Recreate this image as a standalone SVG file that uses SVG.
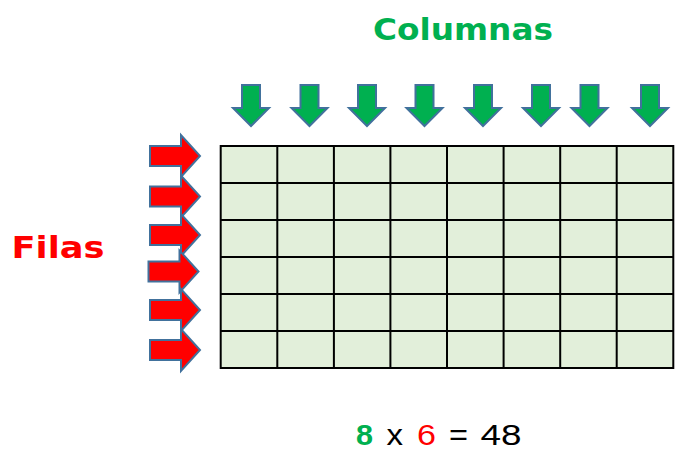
<svg xmlns="http://www.w3.org/2000/svg" width="675" height="452" viewBox="0 0 675 452">
<defs>
<style>
.cell{fill:#E2EFDA;stroke:none}
.grid{stroke:#000;stroke-width:2;fill:none}
.down{fill:#00B050;stroke:#41719C;stroke-width:2;stroke-linejoin:miter}
.right{fill:#FF0000;stroke:#41719C;stroke-width:2;stroke-linejoin:miter}
.title{font-family:"DejaVu Sans",sans-serif;font-weight:bold}
.eq{font-family:"Liberation Sans",Arial,sans-serif;font-size:29px}
</style>
<path id="da" d="M-9,0 H9 V23 H18 L0,41 L-18,23 H-9 Z"/>
<path id="ra" d="M0,-10 H31 V-21 L50,0 L31,21 V10 H0 Z"/>
</defs>
<rect width="675" height="452" fill="#fff"/>
<g id="title-columnas">
<text class="title" x="463" y="40" font-size="30" fill="#00B050" text-anchor="middle" textLength="180" lengthAdjust="spacingAndGlyphs">Columnas</text>
</g>
<g id="title-filas">
<text class="title" x="58" y="258" font-size="30" fill="#FF0000" text-anchor="middle" textLength="93" lengthAdjust="spacingAndGlyphs">Filas</text>
</g>
<g id="grid">
<rect class="cell" x="220.7" y="146" width="452.6" height="222"/>
<path class="grid" d="M220.7,146 H673.3 V368 H220.7 Z M277.3,146 V368 M333.9,146 V368 M390.4,146 V368 M447,146 V368 M503.6,146 V368 M560.2,146 V368 M616.7,146 V368 M220.7,183 H673.3 M220.7,220 H673.3 M220.7,257 H673.3 M220.7,294 H673.3 M220.7,331 H673.3"/>
</g>
<g id="column-arrows">
<use href="#da" class="down" x="251" y="85"/>
<use href="#da" class="down" x="309.5" y="85"/>
<use href="#da" class="down" x="367" y="85"/>
<use href="#da" class="down" x="424.5" y="85"/>
<use href="#da" class="down" x="483" y="85"/>
<use href="#da" class="down" x="541" y="85"/>
<use href="#da" class="down" x="589.5" y="85"/>
<use href="#da" class="down" x="650" y="85"/>
</g>
<g id="row-arrows">
<use href="#ra" class="right" x="150" y="156"/>
<use href="#ra" class="right" x="150" y="196.5"/>
<use href="#ra" class="right" x="150" y="235"/>
<use href="#ra" class="right" x="148.5" y="271.5"/>
<use href="#ra" class="right" x="150" y="310"/>
<use href="#ra" class="right" x="150" y="350"/>
</g>
<g id="equation">
<text class="eq" x="356" y="444.5" fill="#00B050" font-weight="bold" textLength="17" lengthAdjust="spacingAndGlyphs">8</text>
<text class="eq" x="386.5" y="444.5" fill="#000" textLength="16.5" lengthAdjust="spacingAndGlyphs">x</text>
<text class="eq" x="417" y="444.5" fill="#FF0000" textLength="19" lengthAdjust="spacingAndGlyphs">6</text>
<text class="eq" x="449" y="444.5" fill="#000" textLength="19" lengthAdjust="spacingAndGlyphs">=</text>
<text class="eq" x="480.5" y="444.5" fill="#000" textLength="41" lengthAdjust="spacingAndGlyphs">48</text>
</g>
</svg>
